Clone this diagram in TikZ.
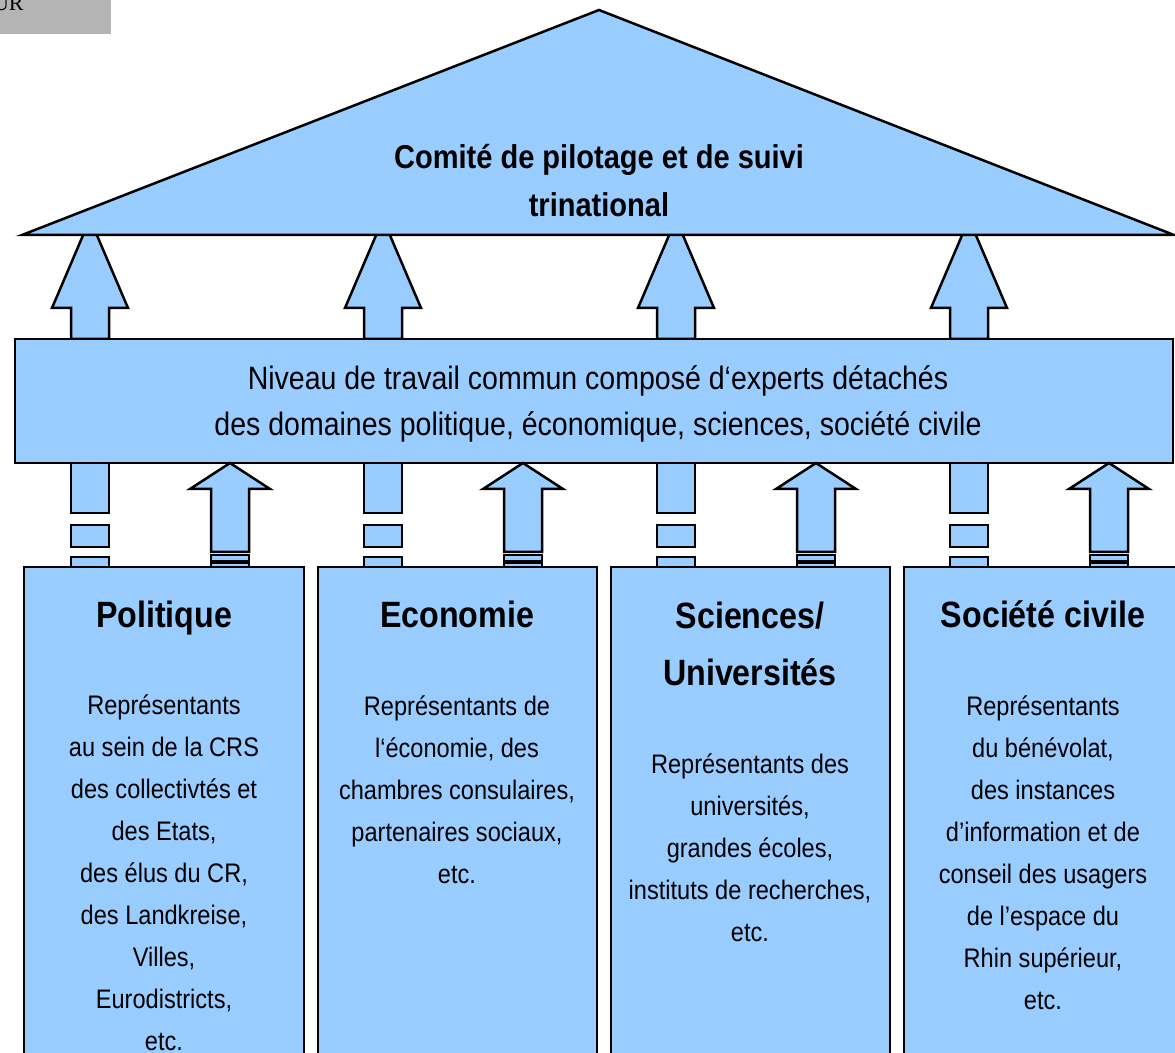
\documentclass[tikz,border=0pt]{standalone}
\usepackage{fontspec}
\setmainfont[FakeStretch=0.88]{Liberation Sans}
\newfontfamily\urserif{Liberation Serif}
\definecolor{lblue}{HTML}{99CCFF}
\definecolor{urgray}{HTML}{B4B4B4}
\begin{document}
\begin{tikzpicture}[x=0.5pt,y=-0.5pt,
  shp/.style={fill=lblue,draw=black,line width=1.25pt,line join=miter},
  thinshp/.style={fill=lblue,draw=black,line width=0.8pt},
  rooftxt/.style={align=center,inner sep=0pt,font=\bfseries\fontsize{16.5}{24}\selectfont},
  midtxt/.style={align=center,inner sep=0pt,font=\fontsize{16.2}{23}\selectfont},
  titletxt/.style={align=center,inner sep=0pt,font=\bfseries\fontsize{18.3}{28.5}\selectfont},
  bodytxt/.style={align=center,inner sep=0pt,font=\fontsize{13.4}{21}\selectfont}]
\useasboundingbox (0,0) rectangle (1175,1053);

% grey corner box
\fill[urgray] (0,0) rectangle (111,34);
\begin{scope}
  \clip (0,0) rectangle (111,34);
  \node[anchor=base east,inner sep=0pt,font=\urserif\fontsize{11}{11}\selectfont] (ur) at (24,11) {UR};
\end{scope}

% arrows up to the roof
\foreach \c in {90,383,676,969} {
  \draw[shp] ({\c-19},339) -- ({\c-19},308) -- ({\c-38},308) -- (\c,219)
     -- ({\c+38},308) -- ({\c+19},308) -- ({\c+19},339) -- cycle;
}

% roof
\draw[shp] (22,235) -- (599,10) -- (1174,235) -- cycle;
\node[rooftxt] (roof) at (599,181) {Comité de pilotage et de suivi\\trinational};

% middle level
\draw[shp] (15,339) rectangle (1173,463);
\node[midtxt] (mid) at (598,404) {Niveau de travail commun composé d‘experts détachés\\des domaines politique, économique, sciences, société civile};

% arrows between the boxes and the middle level
\foreach \c in {90,383,676,969} {
  \draw[shp] ({\c-19},463) rectangle ({\c+19},513);
  \draw[shp] ({\c-19},525) rectangle ({\c+19},547);
  \draw[shp] ({\c-19},557) rectangle ({\c+19},567);
  \draw[shp] ({\c+140},463) -- ({\c+180},489) -- ({\c+159},489) -- ({\c+159},552)
     -- ({\c+121},552) -- ({\c+121},489) -- ({\c+100},489) -- cycle;
  \draw[thinshp] ({\c+121},555) rectangle ({\c+159},561);
  \draw[thinshp] ({\c+121},563) rectangle ({\c+159},567);
}

% bottom boxes
\draw[shp] (24,567) rectangle (304,1075);
\draw[shp] (318,567) rectangle (597,1075);
\draw[shp] (611,567) rectangle (890,1075);
\draw[shp] (904,567) rectangle (1190,1075);

\node[titletxt,anchor=base] (t1) at (164,628) {Politique};
\node[titletxt,anchor=base] (t2) at (457,628) {Economie};
\node[titletxt] (t3) at (750,644) {Sciences/\\Universités};
\node[titletxt,anchor=base] (t4) at (1043,628) {Société civile};

\node[bodytxt] (b1) at (164,873) {Représentants\\au sein de la CRS\\des collectivtés et\\des Etats,\\des élus du CR,\\des Landkreise,\\Villes,\\Eurodistricts,\\etc.};
\node[bodytxt] (b2) at (457,790) {Représentants de\\l‘économie, des\\chambres consulaires,\\partenaires sociaux,\\etc.};
\node[bodytxt] (b3) at (750,848) {Représentants des\\universités,\\grandes écoles,\\instituts de recherches,\\etc.};
\node[bodytxt] (b4) at (1043,853) {Représentants\\du bénévolat,\\des instances\\d’information et de\\conseil des usagers\\de l’espace du\\Rhin supérieur,\\etc.};
\end{tikzpicture}
\end{document}
